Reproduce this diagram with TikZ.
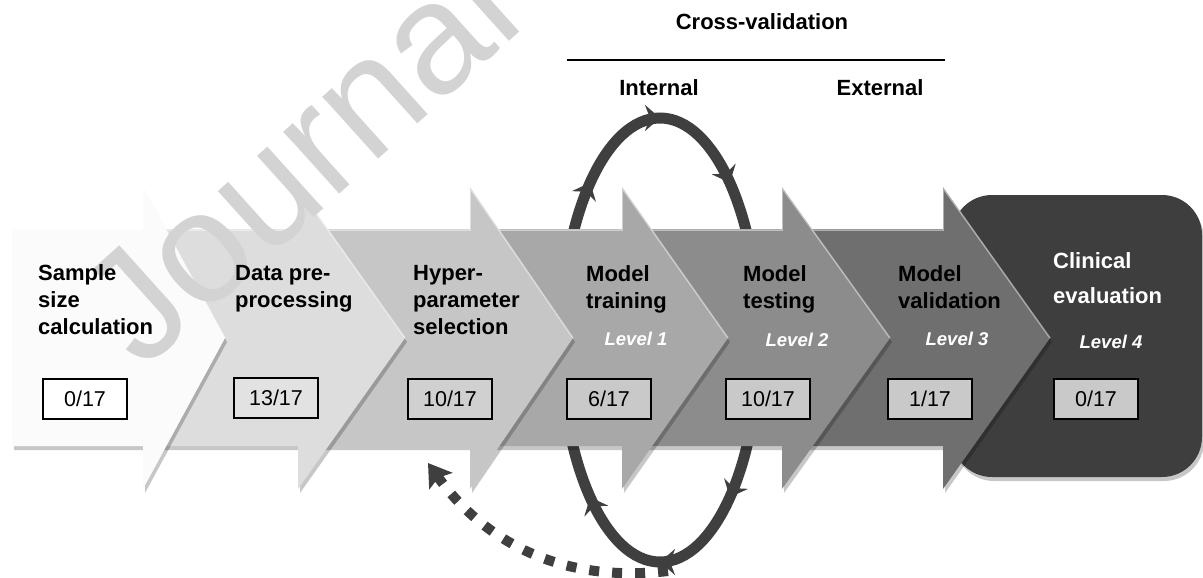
\documentclass[tikz,border=0pt]{standalone}
\usepackage{fontspec}
\setmainfont{Liberation Sans}
\usetikzlibrary{arrows.meta,decorations.markings}

\definecolor{ringgray}{HTML}{3F3F3F}
\definecolor{stepA}{HTML}{FBFBFB}
\definecolor{stepB}{HTML}{DDDDDD}
\definecolor{stepC}{HTML}{C6C6C6}
\definecolor{stepD}{HTML}{A8A8A8}
\definecolor{stepE}{HTML}{8C8C8C}
\definecolor{stepF}{HTML}{6F6F6F}
\definecolor{stepG}{HTML}{3E3E3E}
\definecolor{boxA}{HTML}{FFFFFF}
\definecolor{boxB}{HTML}{E2E2E2}
\definecolor{boxC}{HTML}{D0D0D0}
\definecolor{boxD}{HTML}{C9C9C9}
\definecolor{markgray}{HTML}{D3D3D3}

% one chevron of the process band: left end, notch x, tip x, fill colour
\newcommand\stepchevron[4]{%
  \fill[black, opacity=0.22, shift={(2,4)}]
    (#1,229) -- (#2,229) -- (#2,187) -- (#3,338) -- (#2,489) -- (#2,446) -- (#1,446) -- cycle;
  \fill[#4]
    (#1,229) -- (#2,229) -- (#2,187) -- (#3,338) -- (#2,489) -- (#2,446) -- (#1,446) -- cycle;
  \draw[white, opacity=0.45, line width=1.5pt]
    (#1,230) -- (#2,230) -- (#2,188) -- (#3,338);
}

\begin{document}
\begin{tikzpicture}[x=1pt, y=-1pt,
  % anchored at the baseline of the last line
  title/.style={anchor=base west, align=left, inner sep=0pt,
    font=\fontsize{22}{27}\selectfont\bfseries},
  lvl/.style={inner sep=0pt, text=white,
    font=\fontsize{18.5}{22}\selectfont\bfseries\itshape},
  numbox/.style={draw=black, line width=2pt, minimum width=84pt,
    minimum height=40pt, inner sep=0pt, font=\fontsize{21.5}{25}\selectfont},
  toplabel/.style={inner sep=0pt, font=\fontsize{22}{26}\selectfont\bfseries},
  ringtip/.tip={Stealth[length=15pt, width=26pt, inset=5pt]},
]
\useasboundingbox (0,0) rectangle (1203,578);

% feedback to hyper-parameter selection
\coordinate (fbstart) at (668,571);
\coordinate (fbend) at (428,463);
\draw[ringgray, line width=10pt, dash pattern=on 10pt off 13pt,
      -{Stealth[length=22pt, width=28pt, inset=4pt]}]
  (fbstart) .. controls (540,586) and (470,522) .. (fbend);

% internal cross-validation loop (behind the band)
\coordinate (loopc) at (660,340);
\draw[ringgray, line width=11pt, postaction={decorate},
  decoration={markings,
    mark=at position 0.154 with {\arrow{ringtip}},
    mark=at position 0.25 with {\arrow{ringtip}},
    mark=at position 0.346 with {\arrow{ringtip}},
    mark=at position 0.654 with {\arrow{ringtip}},
    mark=at position 0.75 with {\arrow{ringtip}},
    mark=at position 0.846 with {\arrow{ringtip}}}]
  (loopc) ++(99,0) arc[start angle=0, end angle=360, x radius=99, y radius=222];

% clinical evaluation block
\fill[black, opacity=0.22, rounded corners=40pt, shift={(2,4)}] (952,195) rectangle (1202,477);
\fill[stepG, rounded corners=40pt] (952,195) rectangle (1202,477);

% process chevrons, last one first so earlier steps lie on top
\stepchevron{782}{943}{1050}{stepF}
\stepchevron{622}{782}{890}{stepE}
\stepchevron{470}{622}{728}{stepD}
\stepchevron{298}{470}{573}{stepC}
\stepchevron{143}{298}{405}{stepB}
\stepchevron{12}{143}{225}{stepA}

% watermark
\node[rotate=42, anchor=base west, inner sep=0pt, text=markgray,
      font=\fontsize{158}{158}\selectfont] (wm) at (142,372) {Journal};

% step titles
\node[title] (t1) at (38,334) {Sample\\size\\calculation};
\node[title] (t2) at (235,307) {Data pre-\\processing};
\node[title] (t3) at (413,334) {Hyper-\\parameter\\selection};
\node[title] (t4) at (586,308) {Model\\training};
\node[title] (t5) at (743,308) {Model\\testing};
\node[title] (t6) at (898,308) {Model\\validation};
\node[title, text=white, font=\fontsize{22}{35}\selectfont\bfseries] (t7) at (1053,303) {Clinical\\evaluation};

% levels
\node[lvl] (l1) at (636,339) {Level 1};
\node[lvl] (l2) at (797,340) {Level 2};
\node[lvl] (l3) at (957,339) {Level 3};
\node[lvl] (l4) at (1111,342) {Level 4};

% counts
\node[numbox, fill=boxA] (n1) at (85,399) {0/17};
\node[numbox, fill=boxB] (n2) at (276,398) {13/17};
\node[numbox, fill=boxC] (n3) at (450,399) {10/17};
\node[numbox, fill=boxD] (n4) at (609,399) {6/17};
\node[numbox, fill=boxD] (n5) at (768,399) {10/17};
\node[numbox, fill=boxD] (n6) at (930,399) {1/17};
\node[numbox, fill=boxD] (n7) at (1096,399) {0/17};

% cross-validation header
\node[toplabel] (cv) at (762,22) {Cross-validation};
\coordinate (cvl) at (567,60);
\coordinate (cvr) at (945,60);
\draw[line width=2pt] (cvl) -- (cvr);
\node[toplabel] (int) at (659,88) {Internal};
\node[toplabel] (ext) at (880,88) {External};
\end{tikzpicture}
\end{document}
